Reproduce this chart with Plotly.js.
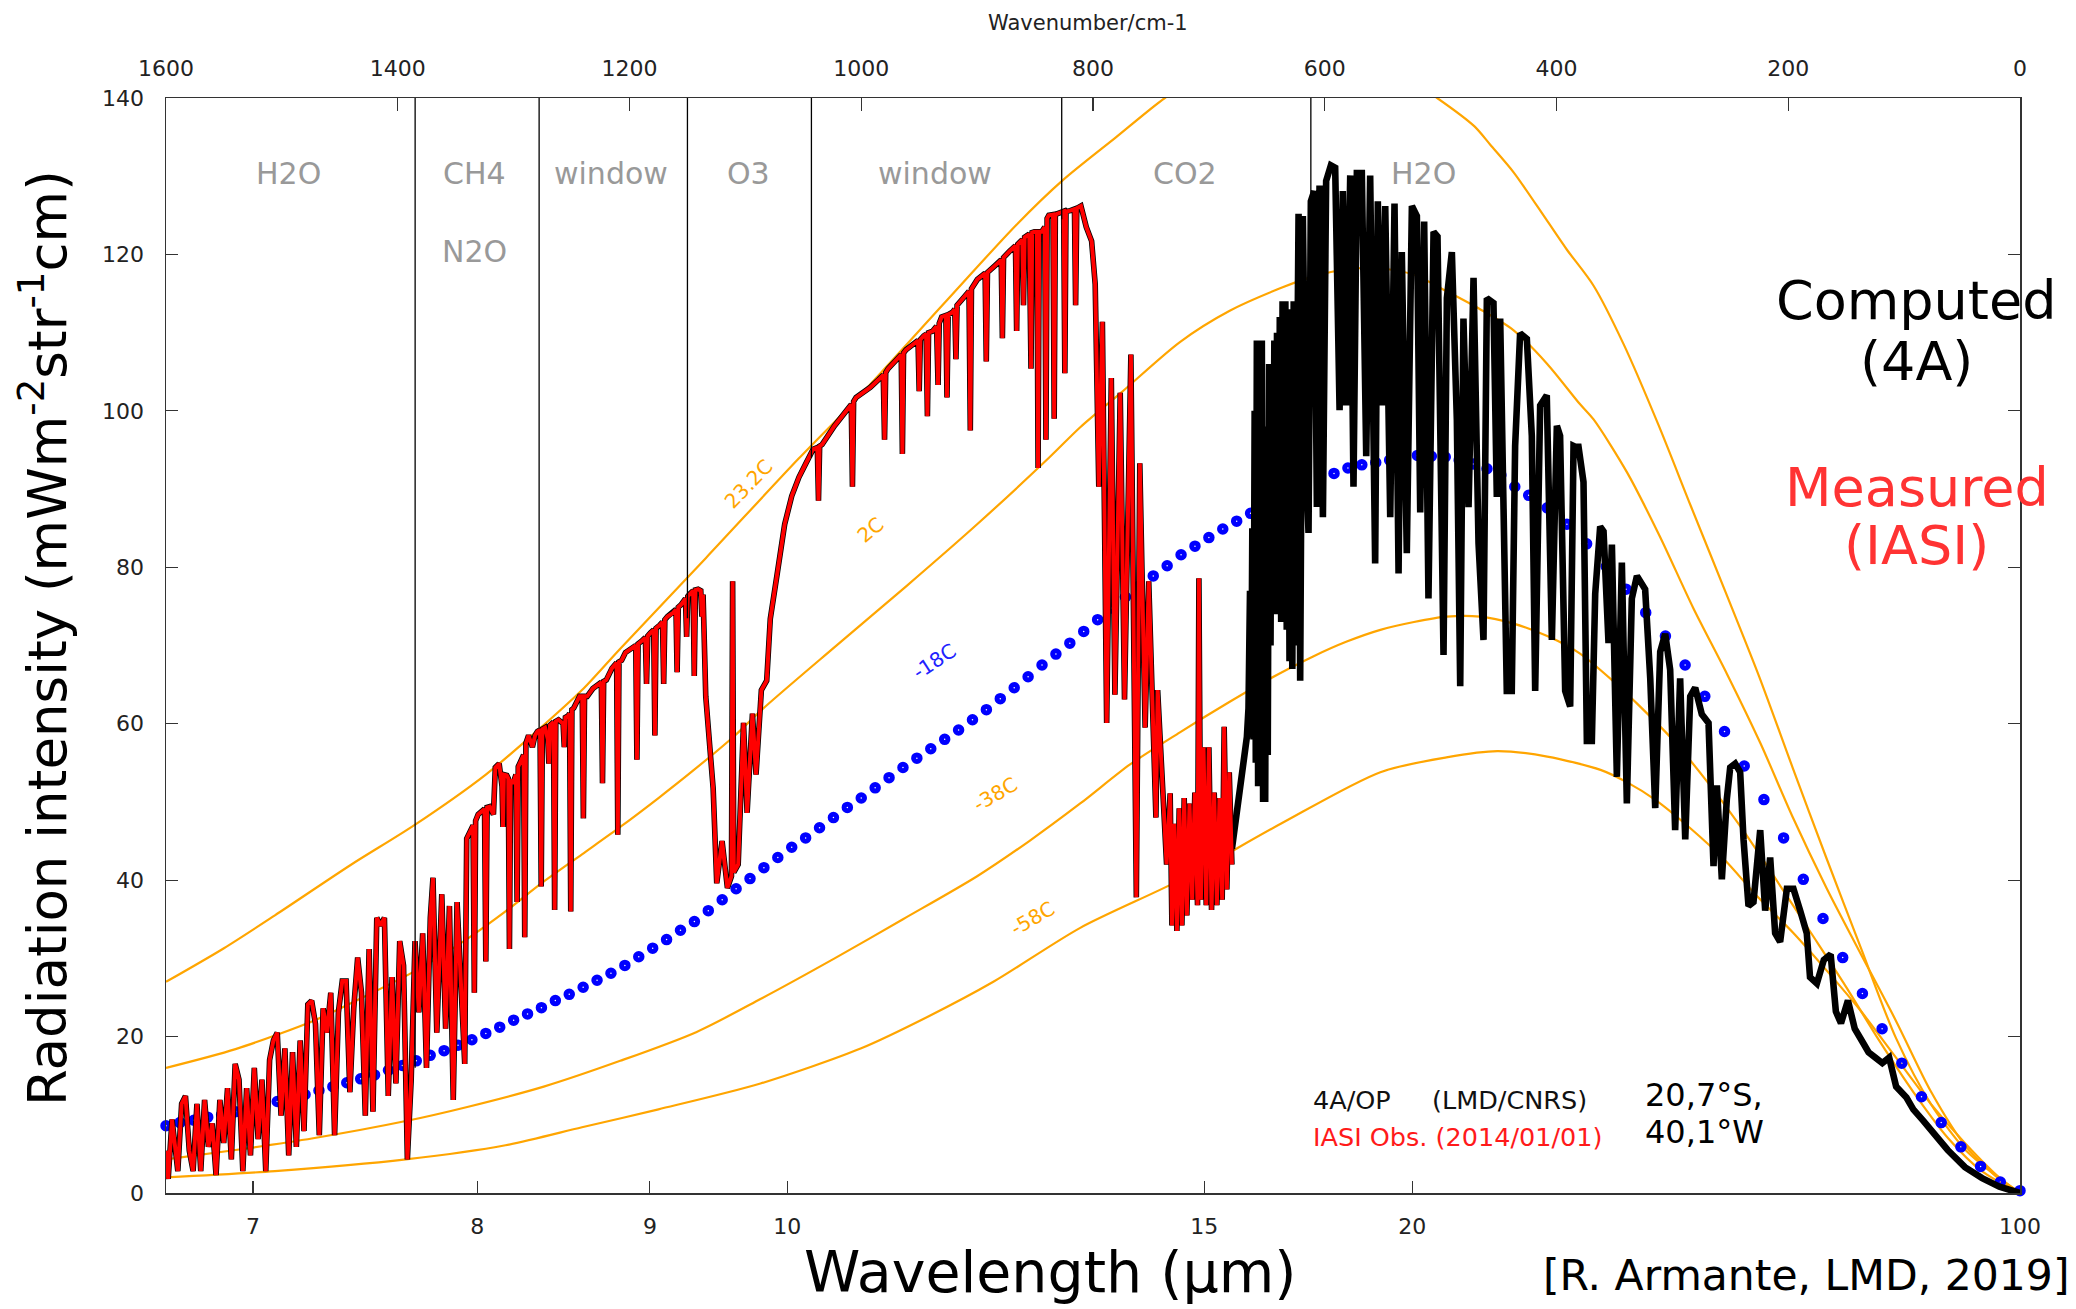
<!DOCTYPE html>
<html><head><meta charset="utf-8">
<script src="https://cdn.plot.ly/plotly-3.0.1.min.js"></script>
<style>html,body{margin:0;padding:0;background:#fff}#chart{width:2076px;height:1309px}</style>
</head><body><div id="chart"></div>
<script>
// ---------- axis ticks ----------
const wavenumberTicks = [1600,1400,1200,1000,800,600,400,200,0];
const wavelengthTickPos = [1524.9,1331.4,1182.4,1063.9,704,524.5,0];
const wavelengthTickText = ['7','8','9','10','15','20','100'];
const intensityTicks = [0,20,40,60,80,100,120,140];

// ---------- reference temperature curves ----------
const t23Wn = [1600,1550,1506,1440,1386,1324,1278,1241,1208,1134,1054,1004,930,866,826,780,738,700,650,600,550,503,471,457,437,409,391,368,342,312,284,254,225,196,167,137,107,77,47,18,0];
const t23Val = [27.0,31.3,35.5,42.0,47.0,53.5,59.3,64.3,69.6,81.2,93.9,101.5,113.5,123.8,129.5,135.0,140.0,143.5,146.0,146.5,144.5,140.0,136.4,134.0,130.5,124.5,120.6,116.0,108.5,98.2,87.8,76.8,66.0,54.3,42.8,31.2,19.8,11.4,5.5,1.9,0];

const t2Wn = [1600,1540,1473,1440,1386,1340,1307,1275,1241,1208,1175,1146,1109,1085,1023,961,900,838,811,776,725,682,638,610,581,552,523,495,466,437,408,380,368,339,311,282,253,224,196,167,140,107,77,47,18,0];
const t2Val = [16.0,18.4,22.0,24.3,28.3,32.5,36.0,39.7,43.3,46.8,50.5,53.9,58.5,61.9,69.8,77.6,85.5,94.0,97.9,102.3,108.8,112.8,115.7,117.2,118.1,118.2,117.4,115.3,113.0,110.3,106.0,100.9,98.9,92.1,84.0,74.8,66.4,57.5,48.0,39.0,31.3,22.0,13.0,6.0,1.8,0];

const tm38Wn = [1600,1540,1473,1393,1340,1274,1208,1142,1087,1023,964,900,855,811,768,725,682,653,610,581,552,523,495,466,437,408,380,350,330,300,270,241,211,181,152,122,92,62,33,0];
const tm38Val = [4.3,5.5,7.0,9.2,11.0,13.6,16.9,20.6,24.8,30.0,35.0,40.5,45.0,49.8,54.8,58.9,62.8,65.3,68.6,70.5,72.0,73.0,73.7,73.7,72.8,71.2,69.0,65.3,62.5,58.0,52.6,46.8,40.2,33.4,26.8,19.6,12.9,7.0,2.8,0];

const tm58Wn = [1600,1506,1393,1307,1241,1175,1087,1000,943,886,811,725,638,552,495,451,408,362,339,315,285,255,226,196,166,137,107,77,47,18,0];
const tm58Val = [2.0,2.8,4.3,6.1,8.4,10.7,14.0,18.5,22.5,27.0,33.9,40.0,47.2,53.8,55.7,56.5,55.8,54.1,52.5,50.3,46.7,42.6,37.8,33.3,28.3,23.2,17.3,11.4,6.3,2.0,0];

// -18C dotted curve
const tm18Wn = [1600,1588,1576,1564,1552,1540,1528,1516,1504,1492,1480,1468,1456,1444,1432,1420,1408,1396,1384,1372,1360,1348,1336,1324,1312,1300,1288,1276,1264,1252,1240,1228,1216,1204,1192,1180,1168,1156,1144,1132,1120,1108,1096,1084,1072,1060,1048,1036,1024,1012,1000,988,976,964,952,940,928,916,904,892,880,868,856,844,832,820,808,796,784,772,760,748,736,724,712,700,688,676,664,652,640,628,616,604,592,580,568,556,544,532,520,508,496,484,472,460,448,436,424,408,391,374,357,340,323,306,289,272,255,238,221,204,187,170,153,136,119,102,85,68,51,34,17,0];
const tm18Val = [8.6,9.0,9.3,9.7,10.0,10.4,10.8,11.3,11.7,12.2,12.6,13.1,13.6,14.1,14.6,15.1,15.7,16.3,16.9,17.6,18.2,18.9,19.6,20.4,21.2,22.1,22.9,23.7,24.6,25.4,26.3,27.2,28.1,29.1,30.2,31.3,32.4,33.6,34.7,36.1,37.5,38.9,40.2,41.6,42.9,44.2,45.4,46.7,48.0,49.3,50.5,51.8,53.1,54.4,55.6,56.8,58.0,59.2,60.5,61.8,63.2,64.6,66.0,67.5,68.9,70.3,71.8,73.3,74.8,76.2,77.6,78.9,80.2,81.6,82.7,83.8,84.9,85.9,86.9,87.9,88.9,89.6,90.4,91.2,92.0,92.7,93.1,93.4,93.7,94.1,94.3,94.2,94.1,93.7,93.2,92.6,91.8,90.3,89.2,87.6,85.5,83.0,80.1,77.2,74.2,71.2,67.5,63.5,59.0,54.6,50.3,45.4,40.1,35.1,30.1,25.5,21.0,16.6,12.3,9.0,5.9,3.4,1.4,0.3];

// ---------- Measured (IASI) spectrum ----------
const measuredWn = [1600,1598.1,1594.8,1589.8,1586.5,1583.2,1579.9,1576.6,1573.3,1570.0,
1566.7,1563.4,1560.1,1556.8,1553.5,1550.2,1546.9,1543.6,1540.3,1537.0,
1533.7,1530.4,1527.1,1523.8,1520.5,1517.2,1513.9,1510.6,1507.3,1504.0,
1500.7,1497.4,1494.1,1490.8,1487.5,1484.2,1480.9,1477.6,1474.3,1471.0,
1467.7,1464.4,1461.1,1457.8,1454.5,1451.2,1447.9,1444.6,1441.3,1438.0,
1434.6,1431.3,1428.0,1424.7,1421.4,1418.1,1414.8,1411.5,1408.2,1404.9,
1401.6,1398.3,1395.0,1391.7,1388.4,1385.1,1381.8,1378.5,1375.2,1371.9,
1369.6,1366.3,1362.0,1358.7,1355.4,1352.1,1348.8,1345.5,1342.2,1340.5,
1337.2,1335.0,1333.9,1332.8,1330.6,1327.3,1325.1,1324.0,1322.9,1320.7,1317.4,
1315.8,1312.5,1310.0,1309.2,1308.4,1305.9,1304.6,1303.6,1302.6,1300.3,
1298.0,1297.0,1296.0,1293.7,1291.4,1290.4,1289.4,1287.1,1283.8,1281.5,
1279.5,1277.2,1276.2,1275.2,1272.9,1270.5,1269.6,1268.6,1265.6,1264.6,
1263.6,1261.3,1257.3,1256.3,1255.3,1253.0,1251.7,1250.7,1249.7,1248.1,
1243.1,1240.8,1239.8,1238.8,1236.5,1231.6,1226.6,1224.3,1223.3,1222.3,
1220.0,1215.1,1211.1,1210.1,1209.1,1206.8,1203.5,1198.5,1194.6,1193.6,
1192.6,1189.3,1186.3,1185.3,1184.3,1182.0,1179.1,1178.1,1177.1,1173.8,
1171.5,1170.5,1169.5,1167.2,1162.2,1159.9,1158.9,1157.9,1155.6,1151.7,
1150.7,1149.7,1147.4,1145.1,1144.1,1143.1,1140.8,1138.5,1137.5,1136.5,1134.2,
1130.9,1127.8,1124.7,1120.1,1115.5,1112.0,1111.0,1110.0,1106.2,1101.6,
1098.5,1093.9,1090.8,1086.2,1081.6,1078.5,1072.3,1066.1,1060.0,1053.8,
1047.7,1041.5,1037.9,1036.9,1035.9,1033.8,1023.0,1016.9,
1008.6,1007.6,1006.6,1004.5,992.2,985.0,981.0,979.9,978.9,976.8,
970.0,965.5,964.5,963.5,961.4,955.0,951.0,950.0,949.0,946.0,
944.0,942.9,941.9,938.3,935.0,933.7,932.7,930.6,927.0,926.0,
925.0,921.3,919.3,918.3,917.3,912.1,907.0,905.9,904.9,899.8,
893.1,892.1,891.1,884.3,880.0,879.2,878.2,877.2,872.0,868.0,
866.9,865.9,864.9,861.0,860.0,859.0,855.0,853.5,852.5,850.5,
848.4,847.4,846.4,844.3,841.6,840.6,839.6,838.1,834.5,833.5,
832.5,828.9,825.3,824.3,823.3,819.6,816.0,815.0,814.0,810.4,
805.8,801.2,798.1,795.0,791.9,788.2,784.2,781.1,776.5,772.8,
767.3,762.6,759.6,755.0,751.9,745.7,744.2,736.5,733.4,
731.9,729.9,727.6,725.6,723.3,721.3,719.0,716.7,714.4,712.1,
709.8,708.6,706.9,704.6,702.3,700.0,697.7,695.4,693.1,690.8,
688.5,686.8,684.5,682.4,680.1];
const measuredVal = [5.4,1.8,9.4,2.8,11.4,12.4,5.4,2.8,11.4,2.8,
11.9,5.9,8.9,2.3,11.9,6.4,13.4,4.3,16.5,14.5,
2.8,13.4,4.8,16.0,6.9,14.5,2.8,17.0,19.5,20.5,
9.9,18.5,4.8,18.0,5.9,19.5,7.9,24.1,24.6,21.6,
7.4,23.6,20.5,25.6,7.4,23.1,27.1,27.1,12.9,23.6,
30.1,25.6,9.9,31.2,10.4,35.2,34.2,35.2,12.4,27.6,
14.0,32.2,29.1,4.3,14.5,32.2,23.1,33.2,16.0,35.2,
40.3,20.5,38.2,21.0,36.7,11.9,37.2,25.6,16.5,45.3,
46.3,47.0,25.6,47.6,48.4,48.9,49.1,29.6,49.3,49.4,48.4,
54.4,54.9,52.0,46.8,53.5,53.4,53.0,31.2,52.8,52.4,
53.5,37.2,54.5,55.4,56.0,32.7,57.5,58.5,57.0,58.5,
59.0,59.2,39.2,59.3,59.5,58.0,54.9,59.8,60.2,36.2,
60.3,60.5,60.0,57.0,60.8,61.0,61.3,36.0,61.8,62.0,
63.5,63.5,47.9,63.5,63.5,64.5,65.1,65.3,52.4,65.4,
65.6,67.1,67.8,45.8,67.9,68.1,69.1,69.6,70.0,55.4,
70.2,70.6,71.0,65.1,71.2,71.6,72.0,58.5,72.2,72.6,
73.0,65.1,73.3,73.7,74.2,74.6,66.6,74.9,75.2,76.0,
71.1,76.3,76.7,77.0,66.1,77.1,77.2,77.0,73.7,76.5,63.5,
57.7,51.7,39.6,45.0,39.0,40.5,78.2,41.0,42.0,60.1,
48.6,61.3,53.5,64.3,65.5,73.4,79.4,85.5,89.1,91.5,
93.3,95.1,95.3,88.5,95.5,95.7,98.1,99.3,
100.8,90.3,101.2,101.7,103.0,104.0,104.6,96.3,104.9,105.4,
106.5,107.2,94.5,107.4,107.8,108.6,109.0,102.5,109.1,109.6,
109.8,99.3,110.0,110.2,110.8,103.3,111.2,112.0,112.2,101.7,
112.3,112.6,113.0,106.6,113.5,114.4,115.3,97.5,115.6,116.8,
117.6,106.3,117.7,118.6,119.2,119.3,109.3,119.6,120.4,121.0,
121.1,110.2,121.3,121.9,113.5,122.2,122.6,105.4,122.8,122.9,
122.9,92.7,122.9,122.9,123.5,96.3,124.6,125.0,125.1,99.0,
125.1,125.3,125.5,104.8,125.5,125.6,125.8,113.5,125.9,126.2,
123.5,121.7,116.2,90.3,111.4,60.1,104.2,63.7,102.3,63.1,
107.2,37.8,93.3,59.5,78.2,48.0,64.3,42.0,51.1,
34.2,47.2,33.5,49.2,34.2,50.5,35.5,49.8,37.5,51.2,
36.8,78.6,37.5,57.0,36.8,57.0,36.2,51.2,36.8,50.5,
37.5,59.6,38.8,53.8,42.0];

// ---------- Computed (4A) spectrum beyond the IASI range ----------
const computedWn = [680.1,675.8,672.9,670.1,667.2,665.8,664.5,663.5,662.5,661.5,
660.5,659.5,658.6,657.5,656.5,655.5,654.3,653.2,652.3,651.4,
650.3,649.2,648.0,646.8,645.7,644.6,643.5,642.3,641.2,640.0,
638.8,637.6,636.4,635.2,634.0,632.8,631.6,630.4,629.2,628.0,
626.8,625.6,624.2,622.6,621.2,
618.9,616.3,614.0,612.0,
609.1,606.8,604.5,601.6,598.8,594.7,591.0,587.2,584.4,581.5,
578.0,575.2,572.3,568.0,564.2,560.8,556.5,554.2,550.7,547.8,
543.5,539.8,536.3,533.5,529.2,524.8,520.5,517.6,514.2,510.5,
506.1,502.7,497.5,494.6,490.3,486.0,483.1,480.3,475.9,471.6,
467.3,463.0,460.1,454.4,451.5,448.6,442.9,438.6,435.7,431.4,
425.6,421.3,418.4,414.1,408.4,404.0,399.7,396.9,392.5,388.2,385.3,
383.9,381.0,376.7,373.8,369.5,366.6,362.3,359.4,355.1,352.2,
347.9,343.6,339.3,335.0,330.6,323.5,319.1,314.8,310.5,306.2,
301.9,297.6,293.3,288.9,284.6,280.3,274.6,268.8,264.5,261.6,
257.3,253.0,250.1,245.8,241.5,238.6,234.3,230.0,224.2,219.9,
215.6,211.3,207.0,201.2,195.5,189.7,184.0,
181.2,175.3,169.3,163.4,158.9,154.5,148.5,142.6,136.6,130.7,
124.8,118.8,112.9,106.9,98.0,92.1,83.2,71.3,62.4,47.5,
32.7,17.8,3.0,0];
const computedVal = [44.0,49.2,51.8,56.4,58.3,62.0,77.0,60.0,85.0,58.0,
100.0,55.0,109.0,52.0,108.0,55.0,109.0,50.0,98.0,50.0,
98.0,56.0,106.0,70.0,106.0,74.0,109.0,74.0,110.0,74.0,
112.0,73.0,114.0,74.0,114.0,72.0,113.0,68.0,110.0,67.0,
114.0,70.0,118.0,125.2,65.5,
124.9,94.2,84.4,126.8,
128.1,87.7,128.8,86.4,129.4,131.4,131.1,100.1,128.1,100.7,
130.1,90.3,130.4,130.4,94.2,130.1,80.5,126.8,100.7,126.2,
86.4,126.5,79.2,120.3,81.8,126.2,124.9,87.0,124.2,76.0,
122.9,122.3,68.8,114.4,120.3,98.8,64.8,111.8,87.7,117.0,
83.1,70.7,114.4,113.8,89.0,111.8,64.2,64.2,95.5,109.9,
109.2,96.8,64.2,100.7,102.0,70.7,98.1,96.8,64.2,62.2,95.5,
95.4,95.4,90.9,57.8,57.8,76.6,85.2,84.6,70.3,82.9,
53.2,80.6,49.8,76.0,78.9,77.2,65.8,49.2,69.2,71.5,
66.9,46.4,65.8,45.2,63.5,64.6,61.2,60.1,41.8,52.1,
40.1,50.4,54.4,54.9,53.8,45.2,36.7,37.2,46.4,36.1,
42.9,33.2,32.1,38.9,38.9,36.1,33.2,
27.6,26.8,29.8,30.5,23.2,21.7,24.6,21.0,19.5,18.0,
17.3,16.6,17.3,13.6,12.2,10.7,9.2,7.0,5.5,3.3,
1.9,0.8,0.1,0];

// ---------- band separators and labels ----------
const bandEdgeWn = [1385,1278,1150,1043,827,612];
const bandEdgeFrom = [16,59.5,73.5,94,124.5,121];
const bandNames = ['H2O','CH4','window','O3','window','CO2','H2O'];
const bandCenterWn = [1494,1334,1216,1097,936,721,515];
const tempNames = ['23.2C','2C','-18C','-38C','-58C'];
const tempLabelWn = [1097.5,992.2,936.5,884,851.8];
const tempLabelVal = [90.7,84.8,68.0,51.0,35.2];

const F = 'DejaVu Sans, Verdana, sans-serif';
const ORANGE = '#ffa500';

const orangeLine = {color: ORANGE, width: 2.2, shape: 'spline', smoothing: 0.8};
const traces = [
  {x: t23Wn, y: t23Val, mode: 'lines', line: orangeLine},
  {x: t2Wn, y: t2Val, mode: 'lines', line: orangeLine},
  {x: tm38Wn, y: tm38Val, mode: 'lines', line: orangeLine},
  {x: tm58Wn, y: tm58Val, mode: 'lines', line: orangeLine},
  {x: tm18Wn, y: tm18Val, mode: 'markers', cliponaxis: false,
   marker: {symbol: 'circle-open', size: 6.5, color: '#0000ff', line: {width: 5, color: '#0000ff'}}},
  // computed spectrum under the measured one (same shape where both exist)
  {x: measuredWn, y: measuredVal, mode: 'lines', line: {color: '#000', width: 5.6}},
  {x: computedWn, y: computedVal, mode: 'lines', line: {color: '#000', width: 6.6}},
  {x: measuredWn, y: measuredVal, mode: 'lines', line: {color: '#ff0000', width: 4}},
  // carries the top wavenumber axis (draws nothing)
  {x: [wavenumberTicks[0], wavenumberTicks[wavenumberTicks.length - 1]], y: [intensityTicks[0], intensityTicks[0]],
   mode: 'none', xaxis: 'x2', yaxis: 'y'}
];

const ann = [];
bandNames.forEach((t, i) => ann.push({x: bandCenterWn[i], y: 130.4, xref: 'x', yref: 'y', text: t,
  showarrow: false, font: {family: F, size: 30, color: '#999999'}}));
ann.push({x: 1334, y: 120.4, xref: 'x', yref: 'y', text: 'N2O', showarrow: false,
  font: {family: F, size: 30, color: '#999999'}});
const tempAngles = [-46, -40, -33, -30, -30];
tempNames.forEach((t, i) => ann.push({x: tempLabelWn[i], y: tempLabelVal[i], xref: 'x', yref: 'y', text: t,
  showarrow: false, textangle: tempAngles[i],
  font: {family: F, size: 20, color: t === '-18C' ? '#2222ff' : ORANGE}}));

function P(x, y, text, size, color, extra) {
  return Object.assign({x: x, y: y, xref: 'paper', yref: 'paper', text: text, showarrow: false,
    xanchor: 'center', yanchor: 'middle', font: {family: F, size: size, color: color}}, extra || {});
}
ann.push(P(0.4773, -0.0717, 'Wavelength (µm)', 57, '#000'));
ann.push(P(0.8846, -0.0750, '[R. Armante, LMD, 2019]', 42.5, '#000'));
ann.push(P(-0.0658, 0.5068, 'Radiation intensity (mWm<sup>-2</sup>str<sup>-1</sup>cm)', 53, '#000', {textangle: -90}));
ann.push(P(0.4973, 1.0689, 'Wavenumber/cm-1', 21, '#222'));
ann.push(P(0.9444, 0.8151, 'Computed', 54, '#000'));
ann.push(P(0.9444, 0.7598, '(4A)', 54, '#000'));
ann.push(P(0.9444, 0.6447, 'Measured', 54, '#ff3333'));
ann.push(P(0.9444, 0.5913, '(IASI)', 54, '#ff3333'));
ann.push(P(0.6176, 0.0849, '4A/OP', 25.5, '#111', {xanchor: 'left'}));
ann.push(P(0.6818, 0.0849, '(LMD/CNRS)', 25.5, '#111', {xanchor: 'left'}));
ann.push(P(0.6176, 0.0511, 'IASI Obs. (2014/01/01)', 25.5, '#ff1a1a', {xanchor: 'left'}));
ann.push(P(0.7966, 0.0895, '20,7°S,', 32, '#000', {xanchor: 'left'}));
ann.push(P(0.7966, 0.0557, '40,1°W', 32, '#000', {xanchor: 'left'}));

const shapes = bandEdgeWn.map((w, i) => ({type: 'line', xref: 'x', yref: 'y', x0: w, x1: w,
  y0: bandEdgeFrom[i], y1: 140, layer: 'above', line: {color: '#000', width: 1.3}}));

const axCommon = {showgrid: false, zeroline: false, ticks: 'inside', tickcolor: '#333', tickwidth: 1.2,
  tickfont: {family: F, size: 22, color: '#222'}, fixedrange: true};
const layout = {
  width: 2076, height: 1309,
  margin: {l: 166, r: 56, t: 98, b: 116, pad: 0},
  paper_bgcolor: '#fff', plot_bgcolor: '#fff',
  showlegend: false, hovermode: false,
  font: {family: F, color: '#222'},
  xaxis: Object.assign({}, axCommon, {range: [1600, 0], tickmode: 'array', tickvals: wavelengthTickPos,
    ticktext: wavelengthTickText, ticklen: 12, showline: true, linecolor: '#333', linewidth: 1.5,
    mirror: true, ticklabelstandoff: 13}),
  xaxis2: Object.assign({}, axCommon, {overlaying: 'x', side: 'top', anchor: 'y', range: [1600, 0],
    tickmode: 'array', tickvals: wavenumberTicks, ticklen: 13, showline: false, ticklabelstandoff: 17}),
  yaxis: Object.assign({}, axCommon, {range: [0, 140], tickmode: 'array', tickvals: intensityTicks,
    ticklen: 12, showline: true, linecolor: '#333', linewidth: 1.5, mirror: 'ticks', ticklabelstandoff: 16}),
  annotations: ann,
  shapes: shapes
};
Plotly.newPlot('chart', traces, layout, {displayModeBar: false, staticPlot: true});
</script></body></html>
